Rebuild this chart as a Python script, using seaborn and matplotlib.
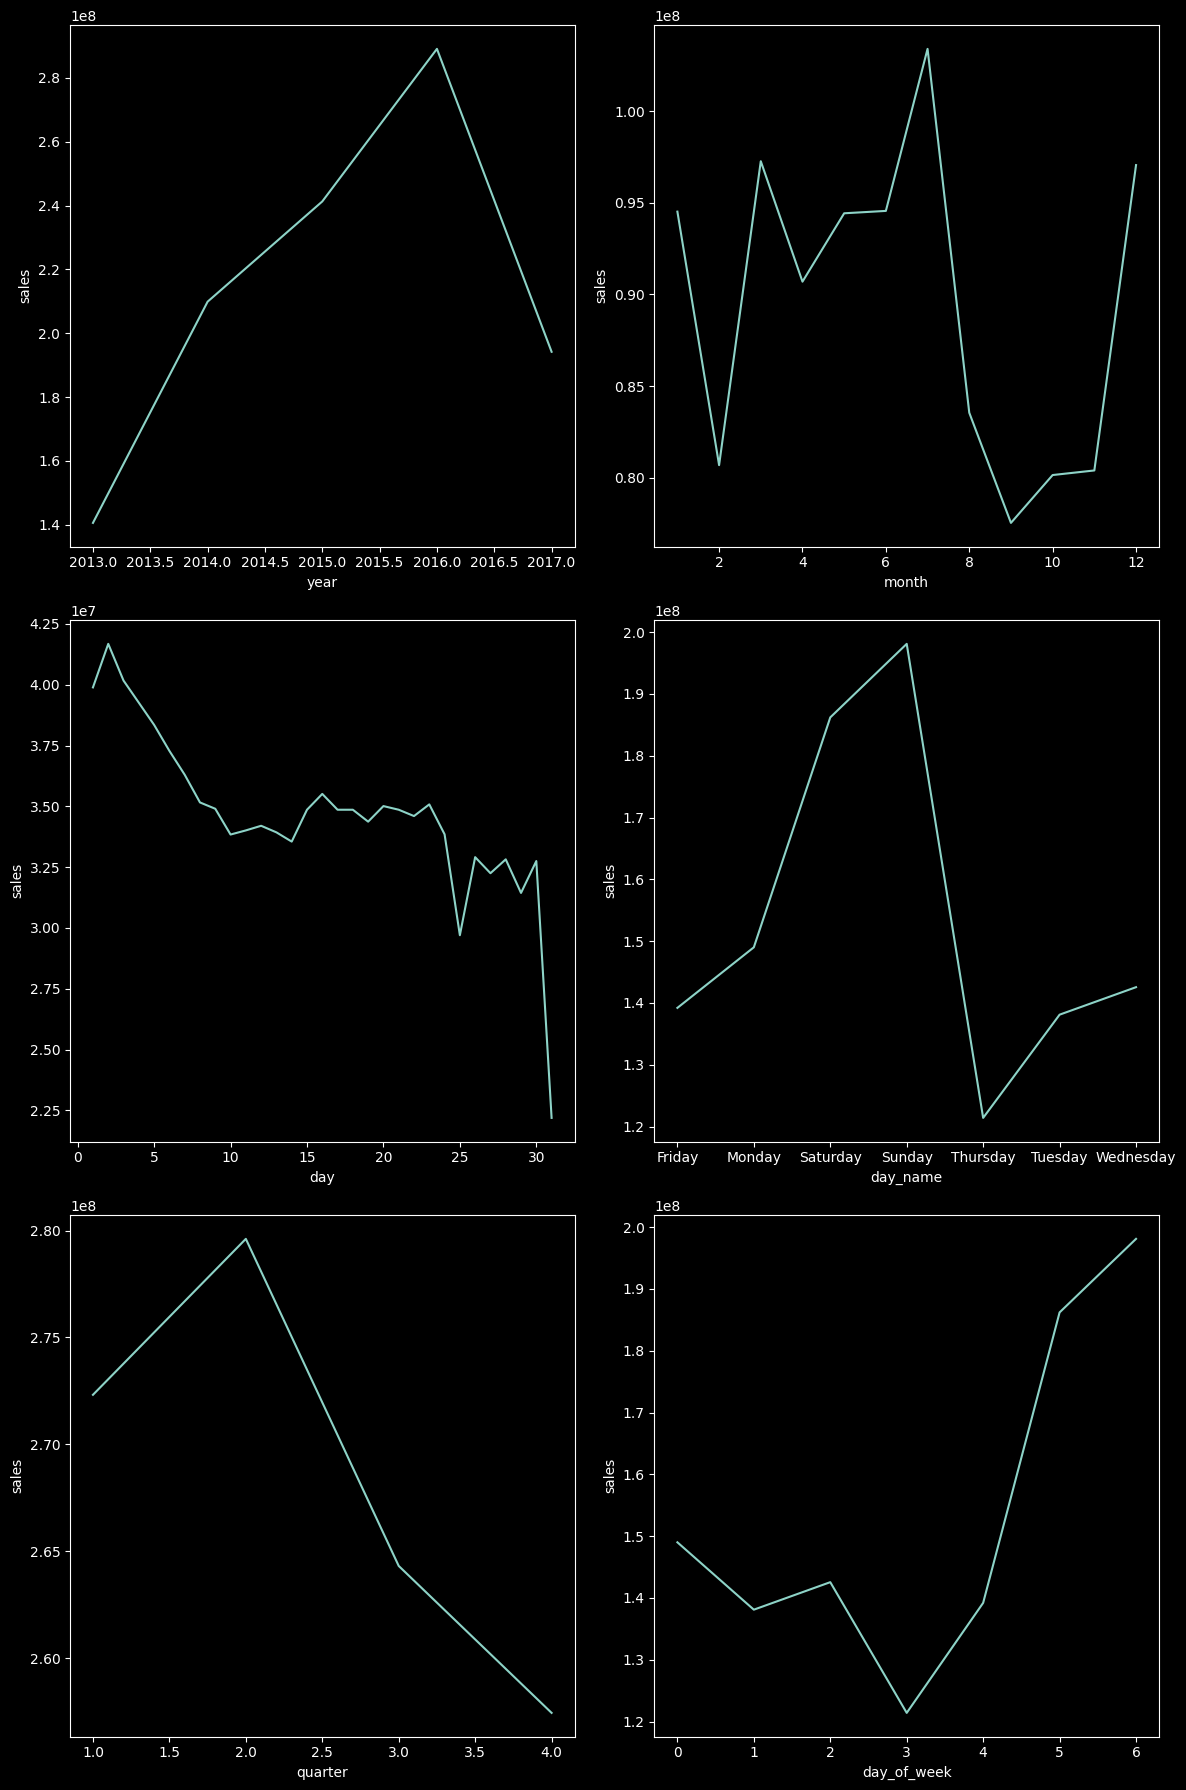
import pandas as pd
import seaborn as sns
import matplotlib.pyplot as plt

# Total sales aggregated by different time parts
years = [2013, 2014, 2015, 2016, 2017]
year_sales = [1.406e8, 2.099e8, 2.413e8, 2.891e8, 1.942e8]

months = list(range(1, 13))
month_sales = [0.9452e8, 0.8069e8, 0.9727e8, 0.9070e8, 0.9443e8, 0.9456e8,
               1.0340e8, 0.8355e8, 0.7754e8, 0.8015e8, 0.8040e8, 0.9706e8]

days = list(range(1, 32))
day_sales = [3.989e7, 4.168e7, 4.017e7, 3.926e7, 3.835e7, 3.728e7, 3.630e7,
             3.516e7, 3.490e7, 3.384e7, 3.401e7, 3.420e7, 3.393e7, 3.355e7,
             3.486e7, 3.551e7, 3.486e7, 3.486e7, 3.437e7, 3.501e7, 3.486e7,
             3.460e7, 3.508e7, 3.385e7, 2.970e7, 3.291e7, 3.225e7, 3.282e7,
             3.144e7, 3.275e7, 2.219e7]

day_names = ["Friday", "Monday", "Saturday", "Sunday", "Thursday", "Tuesday", "Wednesday"]
day_name_sales = [1.392e8, 1.490e8, 1.862e8, 1.981e8, 1.214e8, 1.381e8, 1.4255e8]

quarters = [1, 2, 3, 4]
quarter_sales = [2.7232e8, 2.7961e8, 2.6432e8, 2.5745e8]

days_of_week = [0, 1, 2, 3, 4, 5, 6]
day_of_week_sales = [1.490e8, 1.381e8, 1.4255e8, 1.214e8, 1.392e8, 1.862e8, 1.981e8]


def main():
    plt.style.use("dark_background")

    panels = [
        ("year", years, year_sales),
        ("month", months, month_sales),
        ("day", days, day_sales),
        ("day_name", day_names, day_name_sales),
        ("quarter", quarters, quarter_sales),
        ("day_of_week", days_of_week, day_of_week_sales),
    ]

    fig, axes = plt.subplots(3, 2, figsize=(12, 18), dpi=100)

    for ax, (col, xs, ys) in zip(axes.flat, panels):
        df = pd.DataFrame({col: xs, "sales": ys})
        sns.lineplot(data=df, x=col, y="sales", ax=ax)

    plt.tight_layout()
    plt.savefig("out.png", dpi=100, bbox_inches="tight")
    plt.close()


if __name__ == "__main__":
    main()
